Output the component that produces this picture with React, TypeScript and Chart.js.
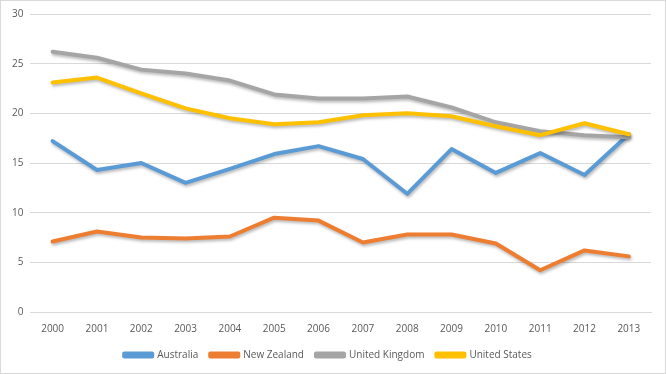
import React, { useEffect, useRef } from "react";
import { Chart, registerables } from "chart.js";

Chart.register(...registerables);

const years = ["2000","2001","2002","2003","2004","2005","2006","2007","2008","2009","2010","2011","2012","2013"];
const australia = [17.2, 14.3, 15.0, 13.0, 14.4, 15.9, 16.7, 15.4, 11.9, 16.4, 14.0, 16.0, 13.8, 17.9];
const newZealand = [7.1, 8.1, 7.5, 7.4, 7.6, 9.5, 9.2, 7.0, 7.8, 7.8, 6.9, 4.2, 6.2, 5.6];
const unitedKingdom = [26.2, 25.6, 24.4, 24.0, 23.3, 21.9, 21.5, 21.5, 21.7, 20.6, 19.1, 18.2, 17.8, 17.6];
const unitedStates = [23.1, 23.6, 22.0, 20.5, 19.5, 18.9, 19.1, 19.8, 20.0, 19.7, 18.7, 17.8, 19.0, 17.9];

const shadowPlugin = {
  id: "lineShadow",
  beforeDatasetsDraw(chart: any) {
    const ctx = chart.ctx;
    ctx.save();
    ctx.shadowColor = "rgba(0,0,0,0.28)";
    ctx.shadowBlur = 3;
    ctx.shadowOffsetX = 1;
    ctx.shadowOffsetY = 2;
  },
  afterDatasetsDraw(chart: any) {
    chart.ctx.restore();
  },
};

export default function App() {
  const ref = useRef<HTMLCanvasElement>(null);
  useEffect(() => {
    if (!ref.current) return;
    const font = { family: "'Open Sans', 'Noto Sans', sans-serif", size: 10 };
    const mk = (label: string, data: number[], color: string, order: number) => ({
      label,
      data,
      borderColor: color,
      backgroundColor: color,
      borderWidth: 4,
      pointRadius: 0,
      tension: 0,
      borderJoinStyle: "round" as const,
      borderCapStyle: "round" as const,
      order,
    });
    const chart = new Chart(ref.current, {
      type: "line",
      data: {
        labels: years,
        datasets: [
          mk("Australia", australia, "#5B9BD5", 4),
          mk("New Zealand", newZealand, "#ED7D31", 3),
          mk("United Kingdom", unitedKingdom, "#A5A5A5", 2),
          mk("United States", unitedStates, "#FFC000", 1),
        ],
      },
      options: {
        animation: false,
        responsive: false,
        maintainAspectRatio: false,
        layout: { padding: { left: 4, right: 14, top: 8, bottom: 3 } },
        plugins: {
          tooltip: { enabled: false },
          legend: {
            position: "bottom",
            labels: {
              font,
              color: "#595959",
              boxWidth: 28,
              boxHeight: 3,
              padding: 12,
              sort: (a: any, b: any) => a.datasetIndex - b.datasetIndex,
            },
          },
        },
        scales: {
          x: {
            offset: true,
            grid: { display: false },
            border: { color: "#d9d9d9" },
            ticks: { font, color: "#595959", maxRotation: 0, padding: 3 },
          },
          y: {
            min: 0,
            max: 30,
            grid: { color: "#d9d9d9", drawTicks: false },
            border: { display: false },
            ticks: { stepSize: 5, font, color: "#595959", padding: 7 },
          },
        },
      },
      plugins: [shadowPlugin],
    });
    return () => chart.destroy();
  }, []);
  return (
    <div style={{ position: "absolute", left: 0, top: 0, width: 666, height: 374, boxSizing: "border-box", border: "1px solid #d9d9d9", background: "#fff" }}>
      <canvas ref={ref} width={664} height={372} style={{ display: "block" }} />
    </div>
  );
}
